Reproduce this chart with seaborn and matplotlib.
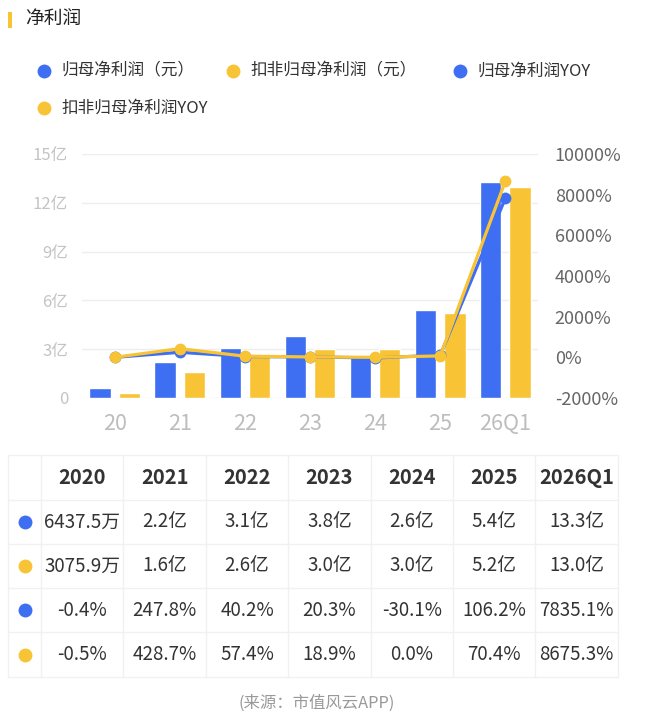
import numpy as np
import pandas as pd
import seaborn as sns
import matplotlib
matplotlib.use('Agg')
import matplotlib.pyplot as plt
from matplotlib.patches import Rectangle

sns.set_theme(style='white')
plt.rcParams['font.family'] = ['Noto Sans CJK SC', 'DejaVu Sans']

## data
periods = ['20', '21', '22', '23', '24', '25', '26Q1']
years = ['2020', '2021', '2022', '2023', '2024', '2025', '2026Q1']
parent_profit = [0.643750, 2.2, 3.1, 3.8, 2.6, 5.4, 13.3]      # 亿元
deducted_profit = [0.307590, 1.6, 2.6, 3.0, 3.0, 5.2, 13.0]    # 亿元
parent_yoy = [-0.4, 247.8, 40.2, 20.3, -30.1, 106.2, 7835.1]   # %
deducted_yoy = [-0.5, 428.7, 57.4, 18.9, 0.0, 70.4, 8675.3]    # %

series_names = ['归母净利润（元）', '扣非归母净利润（元）', '归母净利润YOY', '扣非归母净利润YOY']
left_ticks = [0, 3, 6, 9, 12, 15]
left_labels = ['0', '3亿', '6亿', '9亿', '12亿', '15亿']
right_ticks = [-2000, 0, 2000, 4000, 6000, 8000, 10000]

table_rows = [
    ['6437.5万', '2.2亿', '3.1亿', '3.8亿', '2.6亿', '5.4亿', '13.3亿'],
    ['3075.9万', '1.6亿', '2.6亿', '3.0亿', '3.0亿', '5.2亿', '13.0亿'],
    ['-0.4%', '247.8%', '40.2%', '20.3%', '-30.1%', '106.2%', '7835.1%'],
    ['-0.5%', '428.7%', '57.4%', '18.9%', '0.0%', '70.4%', '8675.3%'],
]

blue = '#3E6EF2'
yellow = '#F8C436'
row_colors = [blue, yellow, blue, yellow]

W, H = 650, 721
fig = plt.figure(figsize=(W / 100, H / 100), dpi=100)
fig.patch.set_facecolor('white')

## bar chart on left axis
ax = fig.add_axes([82 / W, 1 - 398 / H, (538 - 82) / W, (398 - 154) / H])
bars = pd.DataFrame({
    'period': periods * 2,
    'value': parent_profit + deducted_profit,
    'series': [series_names[0]] * len(periods) + [series_names[1]] * len(periods),
})
sns.barplot(data=bars, x='period', y='value', hue='series', palette=[blue, yellow],
            width=0.9, gap=0.27, saturation=1, legend=False, ax=ax)
ax.set_xlim(-0.5, len(periods) - 0.5)
ax.set_ylim(0, 15)
ax.set_yticks(left_ticks)
ax.set_yticklabels(left_labels)
ax.yaxis.grid(True, color='#EEEEEE', lw=1)
ax.set_axisbelow(True)
ax.tick_params(axis='y', length=0, pad=10, labelsize=12, labelcolor='#C4C4C4')
ax.tick_params(axis='x', length=0, pad=11, labelsize=15.5, labelcolor='#BDBDBD')
ax.set_xlabel('')
ax.set_ylabel('')
for s in ax.spines.values():
    s.set_visible(False)

## yoy lines on right axis
ax2 = ax.twinx()
lines = pd.DataFrame({
    'pos': list(np.arange(len(periods))) * 2,
    'yoy': parent_yoy + deducted_yoy,
    'series': [series_names[2]] * len(periods) + [series_names[3]] * len(periods),
})
sns.lineplot(data=lines, x='pos', y='yoy', hue='series', palette=[blue, yellow],
             marker='o', markersize=8.5, markeredgewidth=0, linewidth=2.3,
             legend=False, ax=ax2)
ax2.set_ylim(-2000, 10000)
ax2.set_yticks(right_ticks)
ax2.set_yticklabels([f'{v}%' for v in right_ticks])
ax2.tick_params(axis='y', length=0, pad=12, labelsize=13, labelcolor='#666666')
ax2.set_ylabel('')
ax2.set_xlabel('')
ax2.grid(False)
for s in ax2.spines.values():
    s.set_visible(False)

## overlay in pixel coords for title, legend, table, source
ov = fig.add_axes([0, 0, 1, 1], zorder=-1)
ov.set_xlim(0, W)
ov.set_ylim(H, 0)
ov.axis('off')

ov.add_patch(Rectangle((8, 12), 4, 16, color=yellow, lw=0))
ov.text(25, 18, '净利润', fontsize=13.5, va='center', ha='left', color='#222222')

leg_x = [44, 233, 460, 44]
leg_y = [71, 71, 71, 108]
leg_c = [blue, yellow, blue, yellow]
for i in range(4):
    ov.scatter(leg_x[i], leg_y[i], s=100, color=leg_c[i], lw=0)
    ov.text(leg_x[i] + 17, leg_y[i], series_names[i], fontsize=12,
            va='center', ha='left', color='#333333')

## table
col_edges = [8, 41] + [41 + 82.4 * k for k in range(1, 8)]
row_edges = [455, 500, 544, 588, 632, 677]
grid_c = '#F1F1F1'
for y in row_edges:
    ov.plot([col_edges[0], col_edges[-1]], [y, y], color=grid_c, lw=1)
for x in col_edges:
    ov.plot([x, x], [row_edges[0], row_edges[-1]], color=grid_c, lw=1)

for j, yr in enumerate(years):
    cx = (col_edges[j + 1] + col_edges[j + 2]) / 2
    ov.text(cx, (row_edges[0] + row_edges[1]) / 2, yr, fontsize=14.5, fontweight='bold',
            ha='center', va='center', color='#333333')

for i, row in enumerate(table_rows):
    cy = (row_edges[i + 1] + row_edges[i + 2]) / 2
    ov.scatter(25, cy, s=100, color=row_colors[i], lw=0)
    for j, val in enumerate(row):
        cx = (col_edges[j + 1] + col_edges[j + 2]) / 2
        ov.text(cx, cy, val, fontsize=13.5, ha='center', va='center', color='#333333')

ov.text(317, 703, '(来源：市值风云APP)', fontsize=11.8, ha='center', va='center', color='#999999')

fig.savefig('out.png', dpi=100)
